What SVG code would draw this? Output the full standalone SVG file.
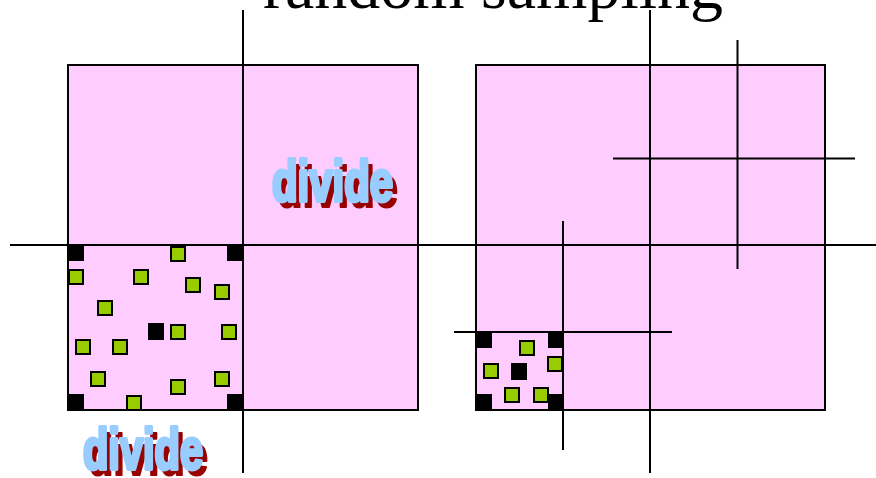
<svg xmlns="http://www.w3.org/2000/svg" width="876" height="478" viewBox="0 0 876 478">
<style>
.sq{fill:#ffccff;stroke:#000;stroke-width:2}
.ln{stroke:#000;stroke-width:2;fill:none}
.g{fill:#99cc00;stroke:#000;stroke-width:2}
.b{fill:#000}
.title{font-family:"Liberation Serif",serif;font-size:66px;fill:#000}
.sh{font-family:"Liberation Sans",sans-serif;font-weight:bold;font-size:57px;fill:#990000;stroke:#990000;stroke-width:2;stroke-linejoin:round}
.tx{font-family:"Liberation Sans",sans-serif;font-weight:bold;font-size:57px;fill:#99ccff;stroke:#99ccff;stroke-width:4;stroke-linejoin:round}
</style>
<text class="title" x="263" y="8">random sampling</text>
<g id="left-square">
<rect class="sq" x="68" y="65" width="350" height="345"/>
</g>
<g id="right-square">
<rect class="sq" x="476" y="65" width="349" height="345"/>
</g>
<g id="connectors">
<line class="ln" x1="10" y1="245" x2="876" y2="245"/>
<line class="ln" x1="243" y1="10" x2="243" y2="473"/>
<line class="ln" x1="650" y1="10" x2="650" y2="473"/>
<line class="ln" x1="613" y1="158.5" x2="855" y2="158.5"/>
<line class="ln" x1="737.5" y1="40" x2="737.5" y2="269"/>
<line class="ln" x1="454" y1="332" x2="672" y2="332"/>
<line class="ln" x1="563" y1="221" x2="563" y2="450"/>
</g>
<g id="left-samples">
<rect class="b" x="68" y="245" width="16" height="16"/>
<rect class="b" x="227" y="245" width="16" height="16"/>
<rect class="b" x="68" y="394" width="16" height="16"/>
<rect class="b" x="227" y="394" width="16" height="16"/>
<rect class="b" x="148" y="323" width="16" height="17"/>
<rect class="g" x="171" y="247" width="14" height="14"/>
<rect class="g" x="69" y="270" width="14" height="14"/>
<rect class="g" x="134" y="270" width="14" height="14"/>
<rect class="g" x="186" y="278" width="14" height="14"/>
<rect class="g" x="215" y="285" width="14" height="14"/>
<rect class="g" x="98" y="301" width="14" height="14"/>
<rect class="g" x="171" y="325" width="14" height="14"/>
<rect class="g" x="222" y="325" width="14" height="14"/>
<rect class="g" x="76" y="340" width="14" height="14"/>
<rect class="g" x="113" y="340" width="14" height="14"/>
<rect class="g" x="91" y="372" width="14" height="14"/>
<rect class="g" x="215" y="372" width="14" height="14"/>
<rect class="g" x="171" y="380" width="14" height="14"/>
<rect class="g" x="127" y="396" width="14" height="14"/>
</g>
<g id="right-samples">
<rect class="b" x="476" y="332" width="16" height="16"/>
<rect class="b" x="548" y="332" width="16" height="16"/>
<rect class="b" x="476" y="394" width="16" height="16"/>
<rect class="b" x="548" y="394" width="16" height="16"/>
<rect class="b" x="511" y="363" width="16" height="17"/>
<rect class="g" x="520" y="341" width="14" height="14"/>
<rect class="g" x="548" y="357" width="14" height="14"/>
<rect class="g" x="484" y="364" width="14" height="14"/>
<rect class="g" x="505" y="388" width="14" height="14"/>
<rect class="g" x="534" y="388" width="14" height="14"/>
</g>
<g id="divide-top">
<text class="sh" x="277" y="207" textLength="121" lengthAdjust="spacingAndGlyphs">divide</text>
<text class="tx" x="272" y="201" textLength="121" lengthAdjust="spacingAndGlyphs">divide</text>
</g>
<g id="divide-bottom">
<text class="sh" x="88" y="475" textLength="120" lengthAdjust="spacingAndGlyphs">divide</text>
<text class="tx" x="83" y="469" textLength="120" lengthAdjust="spacingAndGlyphs">divide</text>
</g>
</svg>
